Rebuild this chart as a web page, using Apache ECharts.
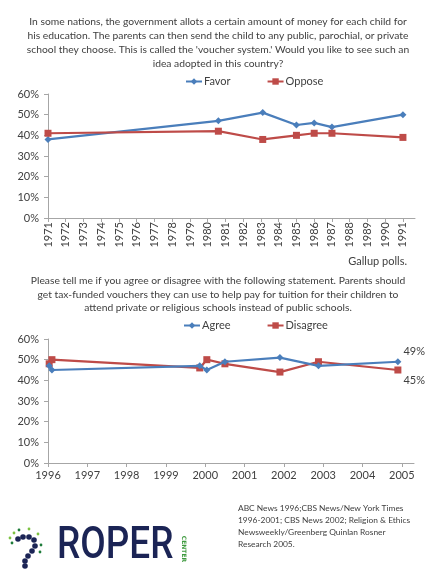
<!DOCTYPE html>
<html>
<head>
<meta charset="utf-8">
<script src="https://cdn.jsdelivr.net/npm/echarts@6/dist/echarts.min.js"></script>
<style>
html,body{margin:0;padding:0;background:#fff;}
#c{width:427px;height:570px;}
</style>
</head>
<body>
<div id="c"></div>
<script>
// ---- Chart 1 data (Gallup) ----
const years1 = [1971, 1980.6, 1983.1, 1985, 1986, 1987, 1991];
const favor = [38, 47, 51, 45, 46, 44, 50];
const oppose = [41, 42, 38, 40, 41, 41, 39];
const tickYears1 = [1971,1972,1973,1974,1975,1976,1977,1978,1979,1980,1981,1982,1983,1984,1985,1986,1987,1988,1989,1990,1991];

// ---- Chart 2 data ----
const years2 = [1996.03, 1996.1, 1999.86, 2000.04, 2000.5, 2001.9, 2002.88, 2004.9];
const agree = [47, 45, 47, 45, 49, 51, 47, 49];
const disagree = [48, 50, 46, 50, 48, 44, 49, 45];
const tickYears2 = [1996,1997,1998,1999,2000,2001,2002,2003,2004,2005];

const yTicks = [0, 10, 20, 30, 40, 50, 60];

const title1 = "In some nations, the government allots a certain amount of money for each child for\nhis education. The parents can then send the child to any public, parochial, or private\nschool they choose. This is called the 'voucher system.' Would you like to see such an\nidea adopted in this country?";
const title2 = "Please tell me if you agree or disagree with the following statement. Parents should\nget tax-funded vouchers they can use to help pay for tuition for their children to\nattend private or religious schools instead of public schools.";
const source = "ABC News 1996;CBS News/New York Times\n1996-2001; CBS News 2002; Religion & Ethics\nNewsweekly/Greenberg Quinlan Rosner\nResearch 2005.";

const BLUE = '#4A7EBB', RED = '#BE4B48';
const FONT = 'Lato';
const TXT = '#404040';

const chart = echarts.init(document.getElementById('c'), null, {renderer: 'canvas'});

function pairs(xs, ys){ return xs.map((x,i)=>[x, ys[i]]); }

function xAxisCfg(gi, min, max, ticks, rotate){
  return {
    type: 'value', gridIndex: gi, min: min, max: max,
    axisLine: {show: true, lineStyle: {color: '#A6A6A6', width: 1}},
    axisTick: {show: true, customValues: ticks, length: 4, lineStyle: {color: '#A6A6A6'}},
    axisLabel: {show: true, customValues: ticks, rotate: rotate, color: TXT, fontFamily: FONT, fontSize: 11, margin: rotate ? 4 : 7, formatter: v => String(Math.round(v))},
    splitLine: {show: false}
  };
}
function yAxisCfg(gi){
  return {
    type: 'value', gridIndex: gi, min: 0, max: 60, interval: 10,
    axisLine: {show: true, lineStyle: {color: '#A6A6A6', width: 1}},
    axisTick: {show: true, length: 4, lineStyle: {color: '#A6A6A6'}},
    axisLabel: {color: TXT, fontFamily: FONT, fontSize: 11, margin: 9, formatter: '{value}%'},
    splitLine: {show: false}
  };
}

const option = {
  backgroundColor: '#fff',
  animation: false,
  title: [
    {text: title1, left: 213, top: 10, textAlign: 'center',
     textStyle: {fontFamily: FONT, fontSize: 10.3, fontWeight: 'normal', color: TXT, lineHeight: 14, align: 'center'}},
    {text: title2, left: 213, top: 269, textAlign: 'center',
     textStyle: {fontFamily: FONT, fontSize: 10.3, fontWeight: 'normal', color: TXT, lineHeight: 13.5, align: 'center'}},
    {text: 'Gallup polls.', right: 15, top: 251,
     textStyle: {fontFamily: FONT, fontSize: 11, fontWeight: 'normal', color: TXT}},
    {text: source, left: 233, top: 497,
     textStyle: {fontFamily: FONT, fontSize: 8.4, fontWeight: 'normal', color: TXT, lineHeight: 12}}
  ],
  legend: [
    {data: ['Favor', 'Oppose'], left: 180, top: 71, itemGap: 36, itemWidth: 16, itemHeight: 8,
     textStyle: {fontFamily: FONT, fontSize: 11, color: TXT, padding: [0,0,0,-3]}},
    {data: ['Agree', 'Disagree'], left: 178, top: 315, itemGap: 36, itemWidth: 16, itemHeight: 8,
     textStyle: {fontFamily: FONT, fontSize: 11, color: TXT, padding: [0,0,0,-3]}}
  ],
  grid: [
    {left: 48, right: 12, top: 94, height: 124},
    {left: 48, right: 13, top: 339, height: 124}
  ],
  xAxis: [
    xAxisCfg(0, 1971, 1991.68, tickYears1, 90),
    xAxisCfg(1, 1996, 2005.31, tickYears2, 0)
  ],
  yAxis: [yAxisCfg(0), yAxisCfg(1)],
  series: [
    {name: 'Favor', type: 'line', xAxisIndex: 0, yAxisIndex: 0, data: pairs(years1, favor),
     symbol: 'diamond', symbolSize: 7, color: BLUE, lineStyle: {width: 2.2, color: BLUE}, itemStyle: {color: BLUE}},
    {name: 'Oppose', type: 'line', xAxisIndex: 0, yAxisIndex: 0, data: pairs(years1, oppose),
     symbol: 'rect', symbolSize: 7, color: RED, lineStyle: {width: 2.2, color: RED}, itemStyle: {color: RED}},
    {name: 'Agree', type: 'line', xAxisIndex: 1, yAxisIndex: 1, z: 3,
     data: pairs(years2, agree).map((p, i, a) => i === a.length - 1 ?
       {value: p, label: {show: true, position: 'right', offset: [-3, -10], formatter: p[1] + '%', color: TXT, fontFamily: FONT, fontSize: 11}} : p),
     symbol: 'diamond', symbolSize: 7, color: BLUE, lineStyle: {width: 2.2, color: BLUE}, itemStyle: {color: BLUE}},
    {name: 'Disagree', type: 'line', xAxisIndex: 1, yAxisIndex: 1, z: 2,
     data: pairs(years2, disagree).map((p, i, a) => i === a.length - 1 ?
       {value: p, label: {show: true, position: 'right', offset: [-3, 10], formatter: p[1] + '%', color: TXT, fontFamily: FONT, fontSize: 11}} : p),
     symbol: 'rect', symbolSize: 7, color: RED, lineStyle: {width: 2.2, color: RED}, itemStyle: {color: RED}}
  ],
  graphic: [
    {type: 'text', x: 57, y: 547, scaleX: 0.84, style: {text: 'ROPER', fill: '#1B2455', font: '500 44px Roboto', verticalAlign: 'middle'}},
    {type: 'text', x: 184, y: 549, rotation: -Math.PI/2, style: {text: 'CENTER', fill: '#3E9A3E', font: 'bold 6px "DejaVu Sans"', align: 'center', verticalAlign: 'middle'}},
    {type: 'group', children: [
      {type: 'circle', shape: {cx: 18, cy: 539, r: 2.8}, style: {fill: '#1B2455'}},
      {type: 'circle', shape: {cx: 23, cy: 537, r: 2.8}, style: {fill: '#1B2455'}},
      {type: 'circle', shape: {cx: 29, cy: 537, r: 2.8}, style: {fill: '#1B2455'}},
      {type: 'circle', shape: {cx: 34, cy: 540, r: 2.8}, style: {fill: '#1B2455'}},
      {type: 'circle', shape: {cx: 35, cy: 546, r: 2.8}, style: {fill: '#1B2455'}},
      {type: 'circle', shape: {cx: 32, cy: 551, r: 2.8}, style: {fill: '#1B2455'}},
      {type: 'circle', shape: {cx: 28, cy: 556, r: 2.8}, style: {fill: '#1B2455'}},
      {type: 'circle', shape: {cx: 25, cy: 561, r: 2.8}, style: {fill: '#1B2455'}},
      {type: 'circle', shape: {cx: 25, cy: 566, r: 2.8}, style: {fill: '#1B2455'}},
      {type: 'circle', shape: {cx: 10, cy: 538, r: 1.4}, style: {fill: '#7DC242'}},
      {type: 'circle', shape: {cx: 14, cy: 533, r: 1.4}, style: {fill: '#7DC242'}},
      {type: 'circle', shape: {cx: 19, cy: 530, r: 1.4}, style: {fill: '#1E7B3A'}},
      {type: 'circle', shape: {cx: 29, cy: 529, r: 1.4}, style: {fill: '#7DC242'}},
      {type: 'circle', shape: {cx: 38, cy: 534, r: 1.4}, style: {fill: '#7DC242'}},
      {type: 'circle', shape: {cx: 41, cy: 545, r: 1.4}, style: {fill: '#1E7B3A'}},
      {type: 'circle', shape: {cx: 40, cy: 552, r: 1.4}, style: {fill: '#1E7B3A'}},
      {type: 'circle', shape: {cx: 12, cy: 543, r: 1.4}, style: {fill: '#1E7B3A'}}
    ]}
  ]
};
chart.setOption(option);
</script>
</body>
</html>
